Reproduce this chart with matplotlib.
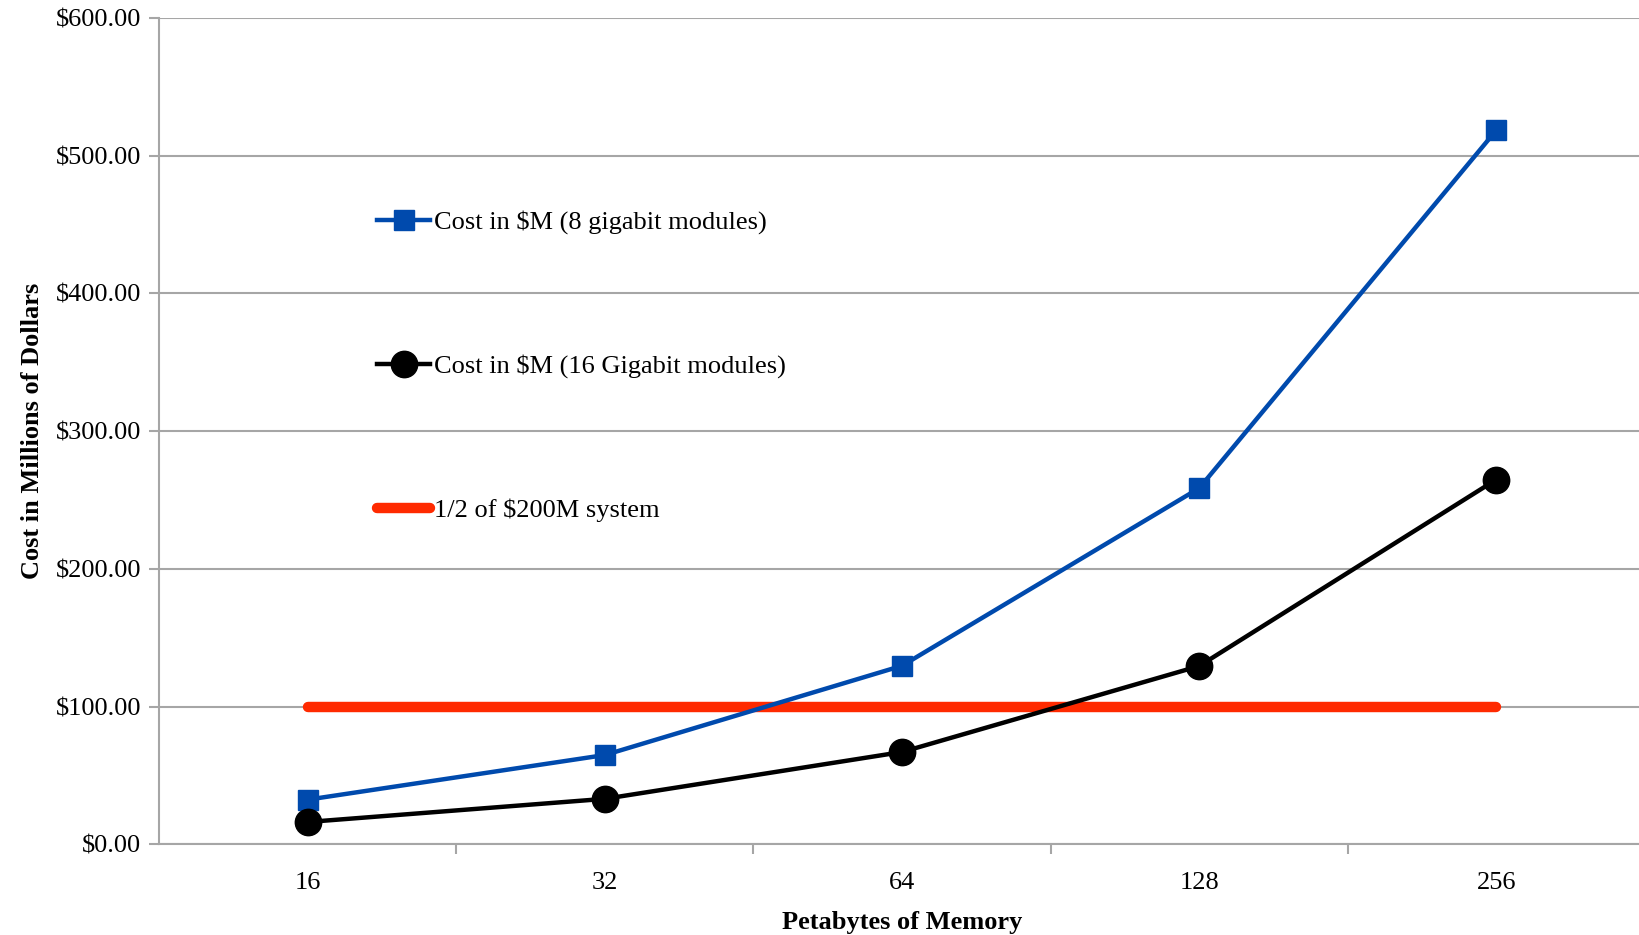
import matplotlib
matplotlib.use("Agg")
from matplotlib import pyplot as plt
from matplotlib.ticker import FuncFormatter, FixedLocator

categories = ["16", "32", "64", "128", "256"]
cost_8gb = [32.4, 64.8, 129.6, 258.5, 518.4]
cost_16gb = [16.2, 33.0, 67.0, 129.4, 264.8]
half_system = [100, 100, 100, 100, 100]

plt.rcParams['font.family'] = ['Liberation Serif', 'DejaVu Serif']

fig = plt.figure(figsize=(16.4, 9.35), dpi=100)
ax = fig.add_axes([0.097, 0.097, 0.906, 0.884])

x = range(len(categories))
ax.plot(x, cost_8gb, color="#004AAD", lw=3.2, marker="s", ms=14,
        label="Cost in $M (8 gigabit modules)", zorder=4)
ax.plot(x, cost_16gb, color="black", lw=3.2, marker="o", ms=19,
        label="Cost in $M (16 Gigabit modules)", zorder=4)
ax.plot(x, half_system, color="#FF2A00", lw=7.5, solid_capstyle="round",
        label="1/2 of $200M system", zorder=3)

ax.set_xlim(-0.5, 4.5)
ax.set_ylim(0, 600)
ax.set_yticks(range(0, 601, 100))
ax.yaxis.set_major_formatter(FuncFormatter(lambda v, p: f"${v:.2f}"))
ax.set_xticks(list(x))
ax.set_xticklabels(categories)
ax.xaxis.set_minor_locator(FixedLocator([0.5, 1.5, 2.5, 3.5]))

ax.grid(axis="y", color="#a6a6a6", lw=1.5, zorder=0)
for side in ["top", "right"]:
    ax.spines[side].set_visible(False)
for side in ["left", "bottom"]:
    ax.spines[side].set_color("#a6a6a6")
    ax.spines[side].set_linewidth(1.5)

ax.tick_params(axis="y", which="major", length=7, width=1.5, color="#a6a6a6",
               labelsize=19, pad=6)
ax.tick_params(axis="x", which="major", length=0, labelsize=19, pad=20)
ax.tick_params(axis="x", which="minor", length=7, width=1.5, color="#a6a6a6")

ax.set_xlabel("Petabytes of Memory", fontsize=19, fontweight="bold", labelpad=12)
ax.set_ylabel("Cost in Millions of Dollars", fontsize=19, fontweight="bold", labelpad=8)

ax.legend(loc="upper left", bbox_to_anchor=(0.147, 0.767), frameon=False,
          fontsize=19, handlelength=2.0, handletextpad=0.15, labelspacing=4.55,
          borderpad=0, borderaxespad=0, markerscale=1.0)

fig.savefig("out.png", dpi=100)
